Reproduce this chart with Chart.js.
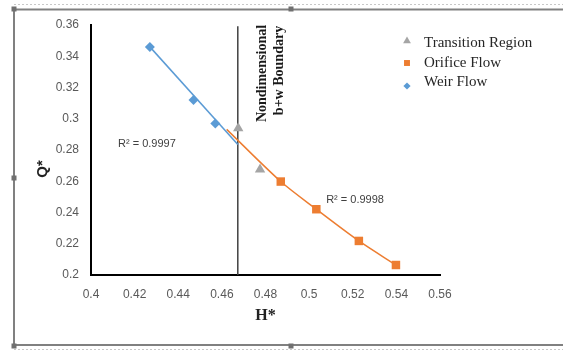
<!DOCTYPE html>
<html>
<head>
<meta charset="utf-8">
<script src="https://cdn.jsdelivr.net/npm/chart.js@4.4.0/dist/chart.umd.min.js"></script>
<style>
  html, body { margin: 0; padding: 0; background: #fff; }
  #wrap { width: 563px; height: 350px; }
</style>
</head>
<body>
<div id="wrap"><canvas id="qhChart" width="563" height="350"></canvas></div>
<script>
// readings (H*, Q*)
const weirH = [0.427, 0.447, 0.457];
const weirQ = [0.346, 0.312, 0.297];
const transH = [0.4675, 0.4775];
const transQ = [0.294, 0.2675];
const orificeH = [0.487, 0.5033, 0.5228, 0.5398];
const orificeQ = [0.2598, 0.2421, 0.2218, 0.2064];

// trendlines as drawn on the original
const weirFitH = [0.427, 0.4673];
const weirFitQ = [0.346, 0.2835];
const orificeFitH = [0.4622, 0.487, 0.5033, 0.5228, 0.5398];
const orificeFitQ = [0.2932, 0.2598, 0.2421, 0.2218, 0.2064];

// b+w boundary
const boundaryH = [0.4673, 0.4673];
const boundaryQ = [0.2, 0.3592];

const r2Text = ['R\u00B2 = 0.9997', 'R\u00B2 = 0.9998'];
const boundaryText = ['Nondimensional', 'b+w Boundary'];

const toPts = (xs, ys) => xs.map((x, i) => ({ x: x, y: ys[i] }));

const BLUE = '#5B9BD5', ORANGE = '#ED7D31', GREY = '#A5A5A5';

// page frame + legend + notes
const decor = {
    id: 'decor',
    beforeDraw(chart) {
        const c = chart.ctx;
        c.save();
        c.fillStyle = '#fff';
        c.fillRect(0, 0, chart.width, chart.height);
        c.strokeStyle = '#c8c8c8';
        c.lineWidth = 1;
        c.setLineDash([2, 2]);
        c.beginPath();
        c.moveTo(14, 4.5); c.lineTo(563, 4.5);
        c.moveTo(14, 349.5); c.lineTo(563, 349.5);
        c.stroke();
        c.setLineDash([]);
        c.strokeStyle = '#808080';
        c.lineWidth = 2;
        c.beginPath();
        c.moveTo(563, 9.5); c.lineTo(14, 9.5); c.lineTo(14, 345); c.lineTo(563, 345);
        c.stroke();
        c.fillStyle = '#707070';
        [[14, 9], [291, 9], [14, 178], [14, 346], [291, 346]].forEach(p => c.fillRect(p[0] - 2.5, p[1] - 2.5, 5, 5));
        c.restore();
    },
    afterDraw(chart) {
        const c = chart.ctx;
        const xs = chart.scales.x, ys = chart.scales.y;
        c.save();

        // Q* title
        c.fillStyle = '#222';
        c.font = 'bold 15px "Liberation Sans", Arial, sans-serif';
        c.translate(43, 169);
        c.rotate(-Math.PI / 2);
        c.textAlign = 'center';
        c.textBaseline = 'middle';
        c.fillText('Q*', 0, 0);
        c.setTransform(1, 0, 0, 1, 0, 0);

        // boundary label
        const bx = xs.getPixelForValue(boundaryH[0]);
        c.font = 'bold 14px "Liberation Serif", "Times New Roman", serif';
        c.fillStyle = '#1a1a1a';
        [[bx + 25, 73.5], [bx + 41.5, 70.5]].forEach((p, i) => {
            c.save();
            c.translate(p[0], p[1]);
            c.rotate(-Math.PI / 2);
            c.fillText(boundaryText[i], 0, 0);
            c.restore();
        });

        // R² notes
        c.font = '11px "Liberation Sans", Arial, sans-serif';
        c.fillStyle = '#404040';
        c.textAlign = 'left';
        c.fillText(r2Text[0], xs.getPixelForValue(0.4124), ys.getPixelForValue(0.284));
        c.fillText(r2Text[1], xs.getPixelForValue(0.5078), ys.getPixelForValue(0.2481));

        // legend
        const items = [
            { ds: 0, r: 4.5, y: 41, ty: 43 },
            { ds: 1, r: 4.2, y: 63, ty: 63 },
            { ds: 2, r: 3.6, y: 86, ty: 82 }
        ];
        c.font = '15px "Liberation Serif", "Times New Roman", serif';
        items.forEach(it => {
            const d = chart.data.datasets[it.ds];
            c.fillStyle = d.backgroundColor;
            Chart.helpers.drawPoint(c, { pointStyle: d.pointStyle, radius: it.r, rotation: 0, borderWidth: 0 }, 407, it.y);
            c.fillStyle = '#262626';
            c.fillText(d.label, 424, it.ty);
        });
        c.restore();
    }
};

const ctx = document.getElementById('qhChart').getContext('2d');

const qhChart = new Chart(ctx, {
    type: 'scatter',
    data: {
        datasets: [
            {
                label: 'Transition Region',
                data: toPts(transH, transQ),
                pointStyle: 'triangle',
                pointRadius: 6,
                backgroundColor: GREY,
                borderWidth: 0,
                order: 0
            },
            {
                label: 'Orifice Flow',
                data: toPts(orificeH, orificeQ),
                pointStyle: 'rect',
                pointRadius: 6,
                backgroundColor: ORANGE,
                borderWidth: 0,
                order: 0
            },
            {
                label: 'Weir Flow',
                data: toPts(weirH, weirQ),
                pointStyle: 'rectRot',
                pointRadius: 5,
                backgroundColor: BLUE,
                borderWidth: 0,
                order: 0
            },
            {
                label: 'weir fit',
                data: toPts(weirFitH, weirFitQ),
                showLine: true,
                borderColor: BLUE,
                borderWidth: 1.5,
                pointRadius: 0,
                order: 1
            },
            {
                label: 'orifice fit',
                data: toPts(orificeFitH, orificeFitQ),
                showLine: true,
                borderColor: ORANGE,
                borderWidth: 1.5,
                tension: 0.3,
                pointRadius: 0,
                order: 1
            },
            {
                label: 'boundary',
                data: toPts(boundaryH, boundaryQ),
                showLine: true,
                borderColor: '#404040',
                borderWidth: 1.5,
                pointRadius: 0,
                order: 2
            }
        ]
    },
    options: {
        responsive: false,
        devicePixelRatio: 1,
        animation: false,
        events: [],
        layout: { padding: { left: 30, right: 123, top: 25, bottom: 22 } },
        plugins: {
            legend: { display: false },
            tooltip: { enabled: false }
        },
        scales: {
            x: {
                type: 'linear',
                min: 0.4,
                max: 0.56,
                afterFit: s => { s.height = 53; },
                grid: { display: false, drawTicks: false },
                border: { display: true, color: '#000', width: 2 },
                ticks: {
                    stepSize: 0.02,
                    padding: 12,
                    color: '#595959',
                    font: { family: '"Liberation Sans", Arial, sans-serif', size: 12 },
                    callback: v => +v.toFixed(2)
                },
                title: {
                    display: true,
                    text: 'H*',
                    color: '#222',
                    padding: { top: 0, bottom: 3 },
                    font: { family: '"Liberation Serif", "Times New Roman", serif', size: 16, weight: 'bold' }
                }
            },
            y: {
                type: 'linear',
                min: 0.2,
                max: 0.36,
                afterFit: s => { s.width = 61; },
                grid: { display: false, drawTicks: false },
                border: { display: true, color: '#000', width: 2 },
                ticks: {
                    stepSize: 0.02,
                    padding: 12,
                    color: '#595959',
                    font: { family: '"Liberation Sans", Arial, sans-serif', size: 12 },
                    callback: v => +v.toFixed(2)
                }
            }
        }
    },
    plugins: [decor]
});
</script>
</body>
</html>
